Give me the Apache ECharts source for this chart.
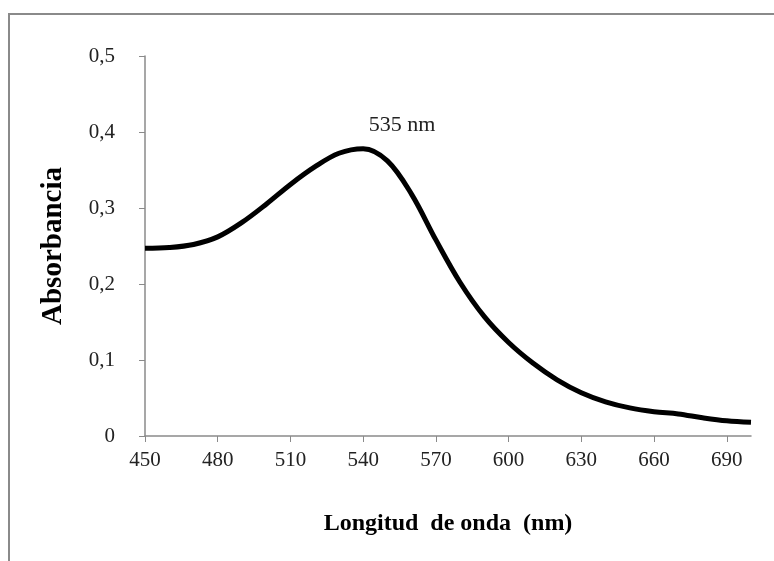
<!DOCTYPE html>
<html>
<head>
<meta charset="utf-8">
<script src="https://cdn.jsdelivr.net/npm/echarts@6/dist/echarts.min.js"></script>
<style>
  html, body { margin: 0; padding: 0; background: #fff; }
  #chart { width: 774px; height: 561px; }
</style>
</head>
<body>
<div id="chart"></div>
<script>
// longitud de onda (nm) y absorbancia
const wavelengths = [450, 460, 470, 480, 490, 500, 510, 520, 530, 540, 550, 560, 570, 580, 590, 600, 610, 620, 630, 640, 650, 660, 670, 680, 690, 700]
const absorbance = [0.247, 0.248, 0.252, 0.262, 0.281, 0.305, 0.331, 0.354, 0.372, 0.378, 0.362, 0.318, 0.258, 0.202, 0.157, 0.123, 0.096, 0.074, 0.057, 0.045, 0.037, 0.032, 0.029, 0.024, 0.020, 0.018]
const peakLabel = ['535 nm', 556, 0.409]

const serif = '"Liberation Serif", "Times New Roman", serif'

const chart = echarts.init(document.getElementById('chart'))

const option = {
  animation: false,
  backgroundColor: '#fff',
  grid: { left: 145, right: 23, top: 56, bottom: 125 },
  // marco gris de la imagen
  graphic: [{
    type: 'polyline',
    shape: { points: [[9, 561], [9, 14], [774, 14]] },
    style: { stroke: '#8a8a8a', lineWidth: 2, fill: null }
  }],
  xAxis: {
    type: 'value',
    min: 450,
    max: 700,
    interval: 30,
    name: 'Longitud  de onda  (nm)',
    nameLocation: 'middle',
    nameGap: 76,
    nameTextStyle: { fontFamily: serif, fontSize: 24, fontWeight: 'bold', color: '#000' },
    axisLine: { lineStyle: { color: '#8a8a8a', width: 1.5 } },
    axisTick: { show: true, length: 6, lineStyle: { color: '#8a8a8a' } },
    axisLabel: { fontFamily: serif, fontSize: 21, color: '#222', margin: 14, showMaxLabel: false },
    splitLine: { show: false }
  },
  yAxis: {
    type: 'value',
    min: 0,
    max: 0.5,
    interval: 0.1,
    name: 'Absorbancia',
    nameLocation: 'middle',
    nameGap: 77,
    nameRotate: 90,
    nameTextStyle: { fontFamily: serif, fontSize: 29, fontWeight: 'bold', color: '#000' },
    axisLine: { show: true, lineStyle: { color: '#8a8a8a', width: 1.5 } },
    axisTick: { show: true, length: 6, lineStyle: { color: '#8a8a8a' } },
    axisLabel: {
      fontFamily: serif, fontSize: 21, color: '#222', margin: 30,
      formatter: v => (v === 0 ? '0' : v.toFixed(1).replace('.', ','))
    },
    splitLine: { show: false }
  },
  series: [{
    type: 'line',
    data: wavelengths.map((w, i) => [w, absorbance[i]]),
    smooth: 0.35,
    showSymbol: false,
    lineStyle: { color: '#000', width: 5 },
    markPoint: {
      symbol: 'circle',
      symbolSize: 0,
      data: [{ coord: [peakLabel[1], peakLabel[2]], value: peakLabel[0] }],
      label: {
        show: true, position: 'inside', formatter: peakLabel[0],
        fontFamily: serif, fontSize: 22, color: '#222'
      }
    }
  }]
}

chart.setOption(option)
</script>
</body>
</html>
